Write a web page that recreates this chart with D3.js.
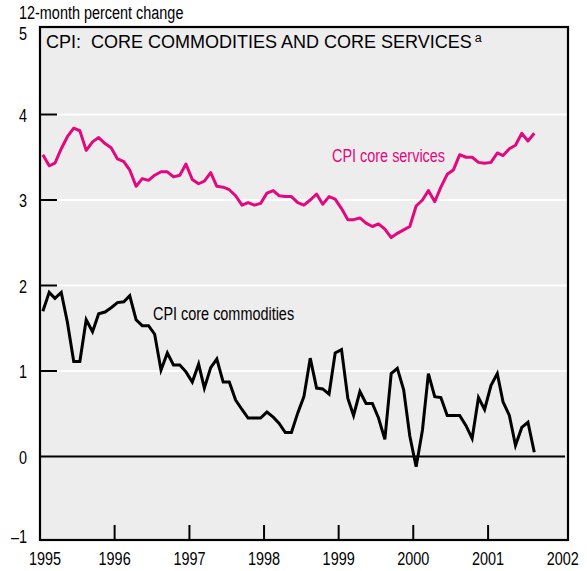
<!DOCTYPE html>
<html>
<head>
<meta charset="utf-8">
<script src="https://cdn.jsdelivr.net/npm/d3@7"></script>
<style>
  body { margin: 0; background: #fff; }
  text { font-family: "Liberation Sans", Arial, sans-serif; }
</style>
</head>
<body>
<div id="chart"></div>
<script>
// monthly values, Jan 1995 - Aug 2001 (12-month percent change)
const startYear = 1995;
const coreServices = [
  3.53, 3.40, 3.43, 3.60, 3.74, 3.84, 3.81, 3.58, 3.68, 3.73, 3.66, 3.61,
  3.48, 3.45, 3.35, 3.16, 3.25, 3.23, 3.29, 3.33, 3.33, 3.27, 3.29, 3.42,
  3.24, 3.19, 3.22, 3.32, 3.16, 3.15, 3.12, 3.05, 2.94, 2.97, 2.94, 2.96,
  3.08, 3.11, 3.05, 3.04, 3.04, 2.97, 2.94, 3.00, 3.07, 2.95, 3.04, 3.01,
  2.90, 2.77, 2.77, 2.79, 2.73, 2.69, 2.72, 2.66, 2.56, 2.61, 2.65, 2.69,
  2.93, 3.00, 3.11, 2.98, 3.15, 3.30, 3.35, 3.53, 3.50, 3.50, 3.44, 3.43,
  3.44, 3.55, 3.52, 3.60, 3.64, 3.78, 3.69, 3.78
];
const coreCommodities = [
  1.70, 1.92, 1.85, 1.92, 1.57, 1.11, 1.11, 1.60, 1.46, 1.67, 1.69, 1.74,
  1.80, 1.81, 1.88, 1.60, 1.53, 1.53, 1.43, 1.01, 1.21, 1.07, 1.07, 0.99,
  0.87, 1.08, 0.80, 1.04, 1.14, 0.87, 0.87, 0.66, 0.55, 0.45, 0.45, 0.45,
  0.52, 0.46, 0.39, 0.28, 0.28, 0.51, 0.70, 1.15, 0.80, 0.79, 0.73, 1.21,
  1.25, 0.68, 0.48, 0.76, 0.62, 0.62, 0.45, 0.20, 0.97, 1.03, 0.78, 0.24,
  -0.12, 0.31, 0.97, 0.70, 0.69, 0.48, 0.48, 0.48, 0.36, 0.21, 0.69, 0.55,
  0.83, 0.97, 0.64, 0.48, 0.13, 0.34, 0.40, 0.05
];
const yearTicks = [1995, 1996, 1997, 1998, 1999, 2000, 2001, 2002];
const yTicks = [-1, 0, 1, 2, 3, 4, 5];

const W = 587, H = 571;
const pink = "#e4087f";
const squeeze = 0.76; // condensed look, no narrow font installed
const fs = 19;

const svg = d3.select("#chart").append("svg")
  .attr("width", W).attr("height", H);

const x = d3.scaleTime()
  .domain([new Date(1995, 0, 1), new Date(2002, 0, 1)])
  .range([40, 562.7]);
const y = d3.scaleLinear().domain([-1, 5]).range([542, 29]);

const frame = { left: 40, right: 568, top: 27, bottom: 540 };

// condensed text helper
function narrowText(g, tx, ty, str, size, anchor) {
  return g.append("text")
    .attr("transform", `translate(${tx},${ty}) scale(${squeeze},1)`)
    .attr("text-anchor", anchor || "start")
    .attr("font-size", size)
    .text(str);
}

// panel
svg.append("rect")
  .attr("x", frame.left).attr("y", frame.top)
  .attr("width", frame.right - frame.left)
  .attr("height", frame.bottom - frame.top)
  .attr("fill", "#ededed");

// white gridlines
svg.append("g").selectAll("line")
  .data([1, 2, 3, 4])
  .join("line")
  .attr("x1", frame.left).attr("x2", frame.right)
  .attr("y1", d => y(d)).attr("y2", d => y(d))
  .attr("stroke", "#fff").attr("stroke-width", 2);

// left ticks
svg.append("g").selectAll("line")
  .data([1, 2, 3, 4])
  .join("line")
  .attr("x1", frame.left).attr("x2", frame.left + 17)
  .attr("y1", d => y(d)).attr("y2", d => y(d))
  .attr("stroke", "#000").attr("stroke-width", 2);

// bottom year ticks
svg.append("g").selectAll("line")
  .data(yearTicks.slice(1, -1))
  .join("line")
  .attr("x1", d => x(new Date(d, 0, 1))).attr("x2", d => x(new Date(d, 0, 1)))
  .attr("y1", frame.bottom).attr("y2", frame.bottom - 15)
  .attr("stroke", "#000").attr("stroke-width", 2);

// zero line
svg.append("line")
  .attr("x1", frame.left).attr("x2", 565)
  .attr("y1", y(0)).attr("y2", y(0))
  .attr("stroke", "#000").attr("stroke-width", 2.2);

// frame border
svg.append("rect")
  .attr("x", frame.left).attr("y", frame.top)
  .attr("width", frame.right - frame.left)
  .attr("height", frame.bottom - frame.top)
  .attr("fill", "none").attr("stroke", "#000").attr("stroke-width", 2.2);

const line = d3.line()
  .x((d, i) => x(new Date(startYear, i, 15)))
  .y(d => y(d));

svg.append("path")
  .datum(coreServices)
  .attr("d", line)
  .attr("fill", "none").attr("stroke", pink)
  .attr("stroke-width", 3).attr("stroke-linejoin", "round");

svg.append("path")
  .datum(coreCommodities)
  .attr("d", line)
  .attr("fill", "none").attr("stroke", "#000")
  .attr("stroke-width", 3).attr("stroke-linejoin", "miter");

// y labels (end labels nudged inward like the original)
const yl = svg.append("g");
yTicks.forEach(d => {
  const nudge = d === 5 ? 4 : d === -1 ? -6 : 0;
  narrowText(yl, 27, y(d) + 7 + nudge, d < 0 ? "\u2013" + Math.abs(d) : String(d), fs, "end");
});

// x labels
const xl = svg.append("g");
yearTicks.forEach((d, i) => {
  narrowText(xl, i === 0 ? 45 : x(new Date(d, 0, 1)), 565, String(d), fs, "middle");
});

narrowText(svg, 19, 19, "12-month percent change", fs);

// title
const title = svg.append("text")
  .attr("x", 46).attr("y", 48)
  .attr("font-size", 18);
title.append("tspan").text("CPI:\u00a0\u00a0CORE COMMODITIES AND CORE SERVICES");
title.append("tspan").attr("dx", 3).attr("dy", -6).attr("font-size", 12.5).text("a");

// series labels
narrowText(svg, 332, 162, "CPI core services", fs).attr("fill", pink);
narrowText(svg, 153, 320, "CPI core commodities", fs).attr("fill", "#000");
</script>
</body>
</html>
